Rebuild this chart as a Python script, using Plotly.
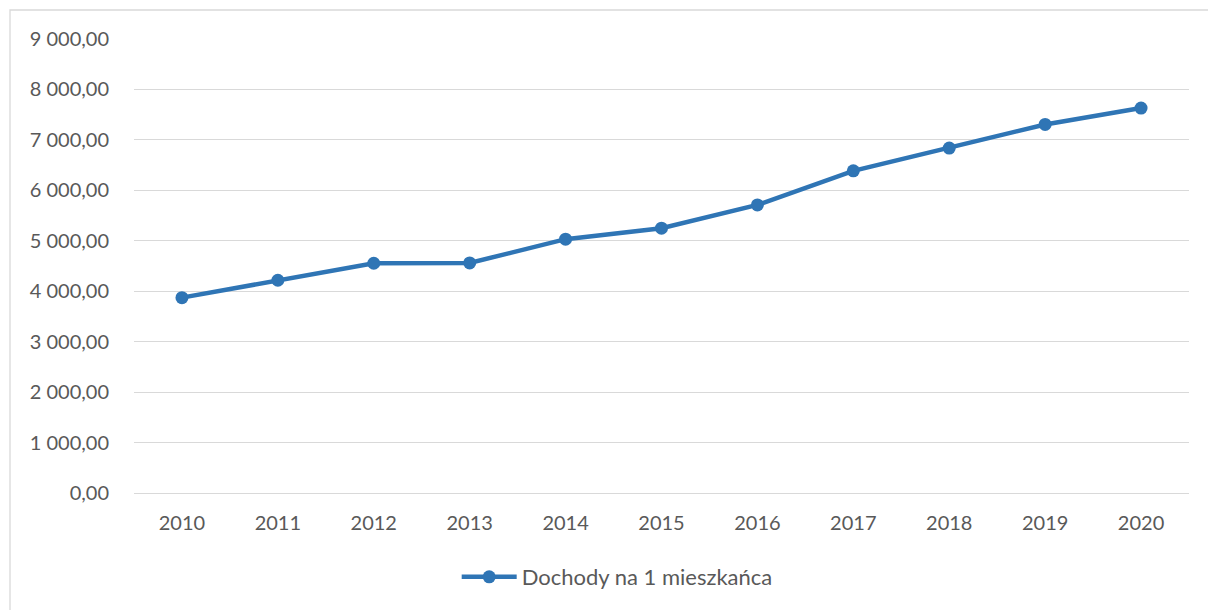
import plotly.graph_objects as go

years = ["2010", "2011", "2012", "2013", "2014", "2015", "2016", "2017", "2018", "2019", "2020"]
dochody = [3873, 4218, 4555, 4560, 5032, 5250, 5710, 6387, 6837, 7306, 7631]
series_name = "Dochody na 1 mieszkańca"

blue = "#2F75B5"
grid = "#D9D9D9"
txt = "#595959"

fig = go.Figure()
fig.add_trace(go.Scatter(
    x=years,
    y=dochody,
    name=series_name,
    mode="lines+markers",
    line=dict(color=blue, width=4.5),
    marker=dict(color=blue, size=13),
))

fig.update_layout(
    width=1208,
    height=610,
    margin=dict(l=134, r=19, t=39, b=117),
    paper_bgcolor="white",
    plot_bgcolor="white",
    separators=", ",
    font=dict(family="Lato, Open Sans, sans-serif", size=20, color=txt),
    showlegend=True,
    legend=dict(
        orientation="h",
        x=0.458, xanchor="center",
        y=-0.185, yanchor="middle",
        font=dict(size=22, color=txt),
        itemwidth=55,
    ),
    xaxis=dict(
        type="category",
        range=[-0.5, len(years) - 0.5],
        showgrid=False,
        showline=False,
        ticks="outside",
        ticklen=12,
        tickcolor="rgba(0,0,0,0)",
    ),
    yaxis=dict(
        range=[0, 9000],
        dtick=1000,
        tickformat=",.2f",
        showgrid=True,
        gridcolor=grid,
        gridwidth=1.3,
        zeroline=True,
        zerolinecolor=grid,
        zerolinewidth=1.3,
        showline=False,
        ticks="outside",
        ticklen=20,
        tickcolor="rgba(0,0,0,0)",
    ),
)

# ramka wykresu (jak w Excelu), wychodzi poza kadr z prawej i z dolu
fig.add_shape(
    type="rect", xref="paper", yref="paper",
    x0=(10 - 134) / 1055, x1=1.3,
    y0=-0.6, y1=(493 - 10) / 454,
    line=dict(color=grid, width=1.3),
    fillcolor="rgba(0,0,0,0)",
    layer="below",
)

# bez domyslnego marginesu strony
fig.write_html("out.html", config={"displayModeBar": False},
               post_script="document.body.style.margin='0';")
